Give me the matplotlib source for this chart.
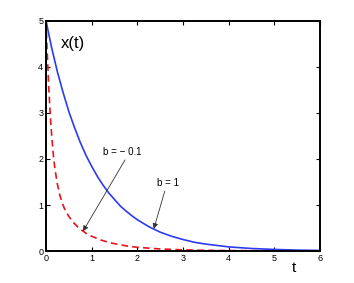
import matplotlib
matplotlib.use("Agg")
import matplotlib.pyplot as plt

# values
t_blue = [0, 0.125, 0.25, 0.375, 0.5, 0.625, 0.75, 0.875, 1.0, 1.125, 1.25,
          1.375, 1.5, 1.625, 1.75, 1.875, 2.0, 2.25, 2.5, 2.75, 3.0, 3.25,
          3.5, 3.75, 4.0, 4.5, 5.0, 5.5, 6.0]
x_blue = [5.0, 4.41, 3.89, 3.44, 3.03, 2.68, 2.36, 2.08, 1.84, 1.62, 1.43,
          1.26, 1.12, 0.98, 0.87, 0.77, 0.68, 0.53, 0.41, 0.32, 0.25, 0.19,
          0.15, 0.12, 0.09, 0.055, 0.034, 0.02, 0.012]

t_red = [0, 0.02, 0.04, 0.06, 0.08, 0.1, 0.125, 0.15, 0.175, 0.2, 0.25, 0.3,
         0.35, 0.4, 0.5, 0.6, 0.7, 0.8, 0.9, 1.0, 1.2, 1.4, 1.6, 1.8, 2.0,
         2.5, 3.0, 3.5, 4.0, 5.0, 6.0]
x_red = [5.0, 4.45, 4.0, 3.55, 3.2, 2.85, 2.5, 2.2, 1.95, 1.75, 1.45, 1.22,
         1.06, 0.93, 0.75, 0.62, 0.52, 0.44, 0.37, 0.32, 0.24, 0.18, 0.14,
         0.105, 0.08, 0.045, 0.025, 0.015, 0.01, 0.004, 0.002]

x_ticks = [0, 1, 2, 3, 4, 5, 6]
y_ticks = [0, 1, 2, 3, 4, 5]

plt.rcParams["font.family"] = ["Liberation Sans", "DejaVu Sans"]

fig = plt.figure(figsize=(3.54, 2.83), dpi=100)
ax = fig.add_axes([0.130, 0.113, 0.774, 0.813])

ax.plot(t_blue, x_blue, color="#2b3cf0", lw=1.2)
ax.plot(t_red, x_red, color="#e8141c", lw=1.2, ls=(0, (4, 2.5)))

ax.set_xlim(0, 6)
ax.set_ylim(0, 5)
ax.set_xticks(x_ticks)
ax.set_yticks(y_ticks)
ax.tick_params(direction="in", length=3, width=0.8, labelsize=6.5,
               top=True, right=True, pad=2)
for s in ax.spines.values():
    s.set_linewidth(1.4)

ax.text(0.33, 4.5, "x(t)", fontsize=12, ha="left", va="center")
ax.text(5.42, -0.37, "t", fontsize=11, ha="center", va="center")

# labels and their arrows (arrow starts just under each label)
arrow = dict(arrowstyle="-|>", color="#333333", lw=0.6,
             mutation_scale=8, shrinkA=0, shrinkB=0)
ax.text(1.68, 2.15, "b = \u2212 0.1", fontsize=7, ha="center", va="center")
ax.annotate("", xy=(0.81, 0.43), xytext=(1.73, 1.98), arrowprops=arrow)
ax.text(2.67, 1.48, "b = 1", fontsize=7, ha="center", va="center")
ax.annotate("", xy=(2.36, 0.48), xytext=(2.6, 1.3), arrowprops=arrow)

fig.savefig("out.png", dpi=100)
